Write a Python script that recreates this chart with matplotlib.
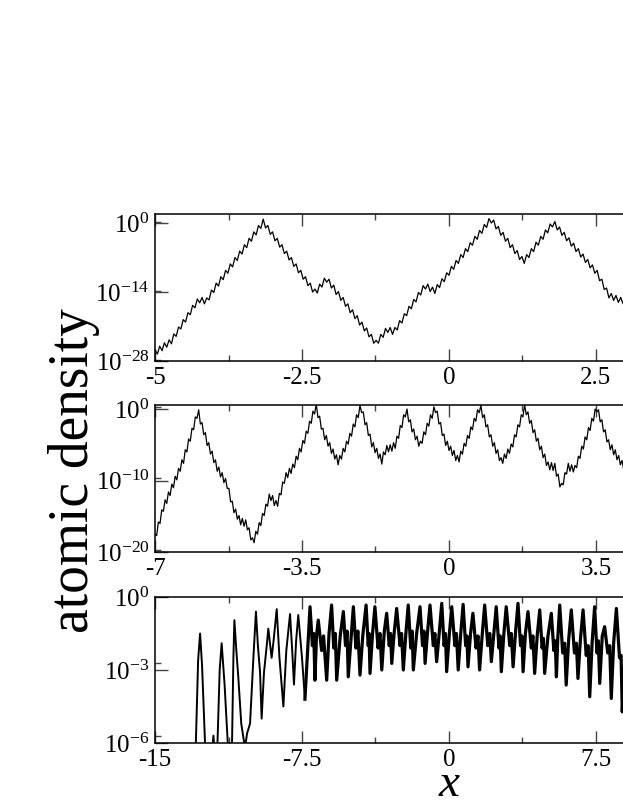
import numpy as np
import matplotlib
matplotlib.use('Agg')
import matplotlib.pyplot as plt
from matplotlib.ticker import FixedLocator, FixedFormatter

plt.rcParams['font.family'] = ['Liberation Serif', 'DejaVu Serif']
plt.rcParams['mathtext.fontset'] = 'custom'
plt.rcParams['mathtext.rm'] = 'Liberation Serif'
plt.rcParams['mathtext.it'] = 'Liberation Serif:italic'

# ---- data (log10 of atomic density) ----
# top panel: sampled every 0.04 starting at x = -5
top_x0, top_dx = -5.0, 0.04
top_logn = [
    -25.7, -26.6, -25.0, -25.9, -24.3, -25.2, -23.7, -24.5, -22.5, -23.0,
    -21.1, -21.5, -19.6, -20.1, -18.2, -18.6, -16.7, -17.2, -15.4, -16.2,
    -15.1, -16.4, -15.2, -15.6, -13.6, -14.1, -12.2, -12.8, -10.9, -11.5,
    -9.6, -10.2, -8.3, -8.9, -7.0, -7.6, -5.7, -6.3, -4.4, -5.0,
    -3.1, -3.7, -1.8, -2.4, -0.5, -1.1, 0.8, -1.0, -0.5, -2.3,
    -1.8, -3.6, -3.1, -4.9, -4.4, -6.2, -5.7, -7.5, -7.0, -8.8,
    -8.3, -10.1, -9.6, -11.4, -10.9, -12.7, -12.2, -14.0, -13.4, -14.2,
    -12.4, -13.0, -11.2, -12.0, -11.4, -13.2, -12.6, -14.5, -13.9, -15.7,
    -15.1, -16.9, -16.4, -18.2, -17.6, -19.4, -18.8, -20.7, -20.1, -21.9,
    -21.3, -23.1, -22.6, -24.4, -23.8, -24.4, -22.6, -23.2, -21.4, -22.2,
    -21.2, -22.6, -21.2, -21.7, -19.8, -20.3, -18.4, -18.8, -16.9, -17.4,
    -15.5, -16.0, -14.1, -14.6, -12.7, -13.4, -12.4, -13.9, -13.0, -14.3,
    -12.5, -13.1, -11.3, -11.9, -10.1, -10.6, -8.8, -9.4, -7.6, -8.2,
    -6.4, -7.0, -5.2, -5.8, -4.0, -4.5, -2.7, -3.3, -1.5, -2.1,
    -0.3, -0.9, 0.9, 0.0, 0.6, -1.2, -0.7, -2.5, -1.9, -3.7,
    -3.1, -5.0, -4.4, -6.2, -5.6, -7.4, -6.8, -8.2, -6.4, -7.0,
    -5.2, -5.8, -3.9, -4.5, -2.7, -3.3, -1.4, -2.0, -0.2, -0.8,
    0.3, -1.4, -0.8, -2.5, -1.9, -3.6, -3.0, -4.7, -4.1, -5.8,
    -5.2, -6.9, -6.3, -8.0, -7.4, -9.1, -8.5, -10.2, -9.6, -11.7,
    -11.4, -13.5, -13.2, -15.2, -14.3, -15.7, -14.7, -16.1, -15.1, -16.4,
    -15.1,
]

# middle panel: sampled every 0.04 starting at x = -7
mid_x0, mid_dx = -7.0, 0.04
mid_logn = [
    -17.5, -17.7, -15.8, -16.0, -14.1, -14.3, -12.7, -13.2, -11.6, -12.1,
    -10.5, -11.0, -9.4, -9.9, -8.3, -8.7, -7.1, -7.6, -5.7, -6.0,
    -4.2, -4.5, -2.7, -2.9, -1.1, -1.3, -0.1, -2.1, -1.9, -3.6,
    -3.3, -5.1, -4.7, -6.3, -5.9, -7.5, -7.1, -8.7, -8.1, -9.5,
    -8.9, -10.3, -9.7, -11.1, -11.1, -13.0, -12.9, -14.5, -14.0, -15.4,
    -14.9, -16.2, -15.3, -16.4, -15.5, -16.9, -16.6, -18.3, -18.0, -18.7,
    -17.1, -17.5, -15.9, -16.3, -14.6, -14.9, -13.3, -13.6, -11.9, -12.8,
    -12.1, -13.5, -12.8, -13.6, -11.8, -12.0, -10.2, -10.4, -8.9, -9.6,
    -8.3, -9.0, -7.7, -8.2, -6.6, -7.1, -5.5, -6.0, -4.4, -4.8,
    -3.1, -3.4, -1.7, -2.0, -0.3, -0.7, 0.7, -1.2, -1.0, -2.8,
    -2.7, -4.3, -3.7, -5.2, -4.7, -6.2, -5.6, -7.0, -6.4, -7.8,
    -6.5, -7.0, -5.5, -6.0, -4.5, -4.9, -3.4, -3.8, -2.1, -2.5,
    -0.8, -1.2, 0.5, -0.5, -0.4, -2.2, -1.9, -3.7, -3.5, -5.3,
    -4.7, -6.1, -5.5, -6.9, -6.3, -7.7, -6.0, -6.4, -5.1, -6.0,
    -5.0, -5.9, -4.7, -5.5, -3.8, -4.1, -2.3, -2.6, -0.8, -1.1,
    0.0, -1.8, -1.5, -3.2, -2.8, -4.3, -3.8, -5.2, -4.5, -4.8,
    -3.2, -3.6, -2.0, -2.4, -0.8, -1.3, 0.3, -0.5, -0.3, -2.1,
    -1.9, -3.7, -3.5, -5.1, -4.5, -5.8, -5.2, -6.5, -5.8, -7.2,
    -6.5, -7.4, -5.9, -6.3, -4.8, -5.2, -3.7, -4.1, -2.5, -2.9,
    -1.3, -1.7, -0.1, -0.5, 0.5, -1.2, -0.8, -2.5, -2.2, -3.9,
    -3.6, -5.2, -4.7, -6.2, -5.7, -7.2, -6.8, -7.6, -6.3, -6.9,
    -5.6, -6.2, -4.9, -5.3, -3.6, -3.9, -2.2, -2.5, -0.8, -1.1,
    0.6, -0.8, -0.4, -2.0, -1.6, -3.3, -2.9, -4.5, -4.1, -5.7,
    -5.2, -6.8, -6.3, -7.9, -7.4, -8.5, -7.5, -8.6, -7.6, -9.4,
    -9.1, -10.9, -10.4, -10.6, -8.9, -9.1, -7.6, -8.7, -7.8, -8.8,
    -7.9, -8.2, -6.6, -6.9, -5.2, -5.6, -3.9, -4.3, -2.6, -3.0,
    -1.3, -1.7, 0.0, -0.4, -0.1, -1.8, -1.5, -3.2, -2.9, -4.6,
    -4.3, -5.7, -5.0, -6.4, -5.7, -7.1, -6.5, -7.8, -7.2, -8.5,
]

# bottom panel: peaks, shoulders and dips of the dense signal
bot_x = [
    -13.2, -12.95, -12.8, -12.7, -12.6, -12.4, -12.15, -12.02, -11.9, -11.85,
    -11.7, -11.6, -11.45, -11.22, -11.09, -11.0, -10.95, -10.85, -10.75, -10.6,
    -10.41, -10.3, -10.15, -9.98, -9.85, -9.75, -9.64, -9.56, -9.44, -9.3,
    -9.22, -9.05, -8.95, -8.79, -8.65, -8.45, -8.3, -8.11, -8.0, -7.91,
    -7.8, -7.69, -7.5, -7.35,
    -7.09, -6.97, -6.9, -6.84, -6.76, -6.67, -6.5, -6.4, -6.24, -6.12,
    -5.99, -5.88, -5.8, -5.73, -5.55, -5.39, -5.28, -5.2, -5.14, -5.0,
    -4.88, -4.75, -4.65, -4.54, -4.4, -4.23, -4.12, -4.08, -4.03, -3.9,
    -3.78, -3.62, -3.52, -3.43, -3.3, -3.18, -3.05, -2.98, -2.92, -2.8,
    -2.67, -2.5, -2.42, -2.33, -2.2, -2.08, -1.95, -1.88, -1.82, -1.65,
    -1.48, -1.35, -1.28, -1.22, -1.1, -0.97, -0.8, -0.72, -0.63, -0.5,
    -0.37, -0.25, -0.18, -0.12, 0.02, 0.14, 0.3, 0.38, 0.47, 0.6,
    0.72, 0.85, 0.91, 0.97, 1.1, 1.22, 1.38, 1.48, 1.56, 1.7,
    1.82, 1.98, 2.08, 2.16, 2.3, 2.41, 2.55, 2.61, 2.67, 2.8,
    2.92, 3.1, 3.18, 3.27, 3.4, 3.52, 3.65, 3.72, 3.78, 3.9,
    4.03, 4.2, 4.28, 4.37, 4.5, 4.63, 4.75, 4.82, 4.88, 5.05,
    5.22, 5.35, 5.42, 5.48, 5.55, 5.65, 5.8, 5.9, 5.98, 6.1,
    6.24, 6.4, 6.5, 6.58, 6.7, 6.84, 7.0, 7.1, 7.18, 7.3,
    7.43, 7.55, 7.62, 7.69, 7.82, 7.94, 8.1, 8.2, 8.28, 8.4,
    8.54, 8.7, 8.78, 8.84, 8.95,
]
bot_logn = [
    -7.0, -7.0, -2.6, -1.5, -2.8, -7.0, -7.0, -5.7, -7.0, -7.0,
    -3.0, -1.9, -3.6, -7.0, -7.0, -2.5, -0.95, -2.2, -3.3, -5.2,
    -6.2, -5.6, -5.2, -2.5, -0.6, -2.0, -3.1, -5.0, -3.1, -2.0,
    -1.3, -2.5, -1.8, -0.5, -2.5, -4.5, -2.2, -0.7, -2.2, -3.6,
    -1.8, -0.74, -2.5, -4.2,
    -0.4, -2.0, -1.5, -3.42, -1.6, -0.95, -2.2, -1.6, -3.42, -1.5,
    -0.33, -2.1, -1.5, -3.42, -1.6, -0.6, -2.0, -1.4, -3.28, -1.7,
    -0.4, -2.1, -1.4, -3.21, -1.6, -0.33, -2.0, -1.5, -3.14, -1.5,
    -0.4, -2.1, -1.5, -3.0, -1.4, -0.67, -2.0, -1.5, -2.73, -1.5,
    -0.47, -2.0, -1.5, -3.0, -1.5, -0.33, -2.1, -1.4, -3.0, -1.5,
    -0.4, -2.0, -1.4, -2.73, -1.5, -0.33, -2.0, -1.5, -2.66, -1.5,
    -0.26, -2.0, -1.5, -3.07, -1.5, -0.4, -2.0, -1.5, -3.0, -1.5,
    -0.3, -2.0, -1.6, -2.87, -1.5, -0.67, -2.1, -1.6, -3.0, -1.5,
    -0.33, -2.0, -1.5, -2.66, -1.4, -0.4, -2.1, -1.6, -3.07, -1.5,
    -0.4, -2.0, -1.5, -2.87, -1.4, -0.26, -2.0, -1.6, -3.07, -1.5,
    -0.6, -2.1, -1.6, -3.14, -1.6, -0.53, -2.1, -1.7, -3.14, -1.6,
    -0.67, -2.2, -1.8, -3.28, -1.7, -0.33, -2.3, -1.9, -3.62, -1.8,
    -0.53, -2.3, -1.9, -3.35, -1.8, -0.53, -2.4, -2.0, -4.1, -1.9,
    -0.4, -2.3, -1.8, -3.55, -1.6, -1.22, -2.3, -2.0, -4.17, -1.9,
    -0.47, -2.5, -2.4, -4.72, -3.0,
]
bot_sparse = 44   # first points: isolated spikes at the left edge, drawn thinner

# axis settings per panel
xlims = [(-5, 5), (-7, 7), (-15, 15)]
xticks = [[-5, -2.5, 0, 2.5, 5], [-7, -3.5, 0, 3.5, 7], [-15, -7.5, 0, 7.5, 15]]
xticklabels = [['-5', '-2.5', '0', '2.5', '5'],
               ['-7', '-3.5', '0', '3.5', '7'],
               ['-15', '-7.5', '0', '7.5', '15']]
ylims_exp = [(-28, 1.83), (-20, 0.56), (-6, 0)]
yticks_exp = [[0, -14, -28], [0, -10, -20], [0, -3, -6]]

top_x = top_x0 + top_dx * np.arange(len(top_logn))
mid_x = mid_x0 + mid_dx * np.arange(len(mid_logn))
curves = [(top_x, np.array(top_logn)),
          (mid_x, np.array(mid_logn)),
          (np.array(bot_x), np.array(bot_logn))]

fig = plt.figure(figsize=(6.23, 8.06), dpi=100)
boxes = [[0.2488, 0.5521, 0.9438, 0.1824],
         [0.2488, 0.3151, 0.9438, 0.1824],
         [0.2488, 0.0782, 0.9438, 0.1811]]

for k in range(3):
    ax = fig.add_axes(boxes[k])
    x, ln = curves[k]
    if k < 2:
        ax.plot(x, 10.0 ** ln, color='black', lw=0.9)
    else:
        # the dense part reads as a thick band in the original
        n = bot_sparse
        ax.plot(x[:n], 10.0 ** ln[:n], color='black', lw=1.4)
        ax.plot(x[n - 1:], 10.0 ** ln[n - 1:], color='black', lw=2.3,
                solid_joinstyle='round')
    ax.set_yscale('log')
    ax.set_xlim(*xlims[k])
    lo, hi = 10.0 ** ylims_exp[k][0], 10.0 ** ylims_exp[k][1]
    ax.set_ylim(lo, hi)

    ax.xaxis.set_major_locator(FixedLocator(xticks[k]))
    ax.xaxis.set_major_formatter(FixedFormatter(xticklabels[k]))
    mids = [(a + b) / 2 for a, b in zip(xticks[k][:-1], xticks[k][1:])]
    ax.xaxis.set_minor_locator(FixedLocator(mids))

    ye = yticks_exp[k]
    ax.yaxis.set_major_locator(FixedLocator([10.0 ** e for e in ye]))
    ax.yaxis.set_major_formatter(FixedFormatter(
        [r'$\mathregular{10^{%d}}$' % e for e in ye]))
    # small extra tick just above each labelled decade
    ax.yaxis.set_minor_locator(FixedLocator(
        [2 * 10.0 ** e for e in ye if 2 * 10.0 ** e < hi]))

    ax.tick_params(which='both', direction='in', top=True, right=False,
                   width=1.0, color='#444444')
    ax.tick_params(axis='x', which='major', length=8.5, pad=4, labelsize=18)
    ax.tick_params(axis='x', which='minor', length=4)
    ax.tick_params(axis='y', which='major', length=9, pad=4, labelsize=18)
    ax.tick_params(axis='y', which='minor', length=4.5)
    for s in ax.spines.values():
        s.set_linewidth(1.1)

fig.text(0.118, 0.416, 'atomic density', rotation=90, ha='center',
         va='center', fontsize=40)
fig.text(0.7207, 0.026, 'x', ha='center', va='center', fontsize=34,
         style='italic')

fig.savefig('out.png', dpi=100)
